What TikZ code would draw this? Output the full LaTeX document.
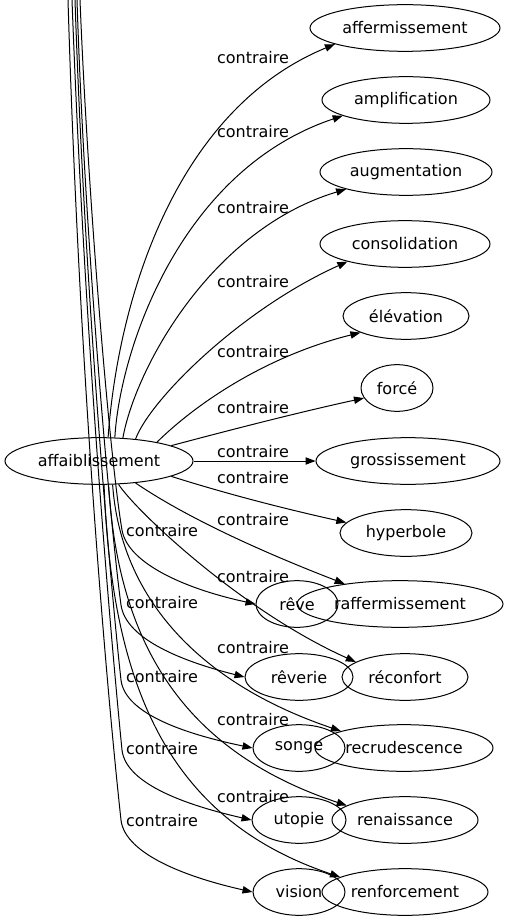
\documentclass[tikz,border=0pt]{standalone}
\usepackage{fontspec}
\setmainfont{DejaVu Sans}
\usetikzlibrary{shapes.geometric,arrows.meta}
\begin{document}
\begin{tikzpicture}[x=0.75pt,y=-0.75pt,line width=0.75pt,
mot/.style={draw, ellipse, inner sep=0pt, minimum height=35pt, minimum width={#1*1.5pt}, font=\fontsize{12}{14}\selectfont},
lab/.style={inner sep=0pt, font=\fontsize{12}{14}\selectfont},
arc/.style={-{Triangle[length=7.5pt,width=5.5pt]}}]
\useasboundingbox (0,0) rectangle (508,923);
\node[mot=94] (mot0) at (99,461){affaiblissement};
\node[mot=95] (mot1) at (405,28){affermissement};
\node[mot=84] (mot2) at (406,100){amplification};
\node[mot=86] (mot3) at (406,172){augmentation};
\node[mot=85] (mot4) at (405,244){consolidation};
\node[mot=63] (mot5) at (406,316){élévation};
\node[mot=36] (mot6) at (397,388){forcé};
\node[mot=92] (mot7) at (408,461){grossissement};
\node[mot=66] (mot8) at (406,533){hyperbole};
\node[mot=103] (mot9) at (400,604){raffermissement};
\node[mot=63] (mot10) at (405,677){réconfort};
\node[mot=89] (mot11) at (404,748){recrudescence};
\node[mot=73] (mot12) at (405,820){renaissance};
\node[mot=83] (mot13) at (405,892){renforcement};
\node[mot=41] (mot14) at (297,604){rêve};
\node[mot=54] (mot15) at (299,677){rêverie};
\node[mot=46] (mot16) at (299,748){songe};
\node[mot=47] (mot17) at (299,820){utopie};
\node[mot=46] (mot18) at (299,892){vision};
% labels
\node[lab] (lab1) at (253,58){contraire};
\node[lab] (lab2) at (253,132){contraire};
\node[lab] (lab3) at (253,208){contraire};
\node[lab] (lab4) at (253,282){contraire};
\node[lab] (lab5) at (253,352){contraire};
\node[lab] (lab6) at (253,408){contraire};
\node[lab] (lab7) at (253,452){contraire};
\node[lab] (lab8) at (253,478){contraire};
\node[lab] (lab9) at (253,520){contraire};
\node[lab] (lab10) at (253,577){contraire};
\node[lab] (lab11) at (253,648){contraire};
\node[lab] (lab12) at (253,720){contraire};
\node[lab] (lab13) at (253,797){contraire};
\node[lab] (lab14) at (162,531){contraire};
\node[lab] (lab15) at (162,603){contraire};
\node[lab] (lab16) at (162,677){contraire};
\node[lab] (lab17) at (162,749){contraire};
\node[lab] (lab18) at (162,821){contraire};
% edges
\draw[arc](mot0.69) .. controls (118,300) and (175,110) .. (mot1.193);
\draw[arc](mot0.56) .. controls (120,350) and (180,170) .. (mot2.194);
\draw[arc](mot0.44) .. controls (135,370) and (210,230) .. (mot3.196);
\draw[arc](mot0.31) .. controls (150,400) and (240,310) .. (mot4.197);
\draw[arc](mot0.18) .. controls (200,400) and (270,355) .. (mot5.200);
\draw[arc](mot0.12) .. controls (230,430) and (300,412) .. (mot6.197);
\draw[arc](mot0) -- (mot7);
\draw[arc](mot0.-12) .. controls (230,495) and (290,510) .. (mot8.170);
\draw[arc](mot0.-31) .. controls (190,520) and (270,555) .. (mot9.160);
\draw[arc](mot0.-50) .. controls (135,510) and (240,610) .. (mot10.163);
\draw[arc](mot0.-60) .. controls (120,590) and (190,680) .. (mot11.165);
\draw[arc](mot0.-68) .. controls (118,640) and (180,750) .. (mot12.166);
\draw[arc](mot0.-78) .. controls (112,690) and (170,820) .. (mot13.167);
% lines from above
\coordinate (top1) at (80,0);
\coordinate (top2) at (77,0);
\coordinate (top3) at (75,0);
\coordinate (top4) at (72,0);
\coordinate (top5) at (68,0);
\draw[arc](top1) .. controls (88,200) and (110,460) .. (122,530) .. controls (128,565) and (190,590) .. (mot14.west);
\draw[arc](top2) .. controls (85,250) and (112,540) .. (121,605) .. controls (126,640) and (185,662) .. (mot15.west);
\draw[arc](top3) .. controls (85,300) and (112,600) .. (121,680) .. controls (125,715) and (190,735) .. (mot16.west);
\draw[arc](top4) .. controls (85,350) and (113,660) .. (122,750) .. controls (126,785) and (190,806) .. (mot17.west);
\draw[arc](top5) .. controls (80,400) and (110,720) .. (121,820) .. controls (125,855) and (190,878) .. (mot18.west);
\end{tikzpicture}
\end{document}
